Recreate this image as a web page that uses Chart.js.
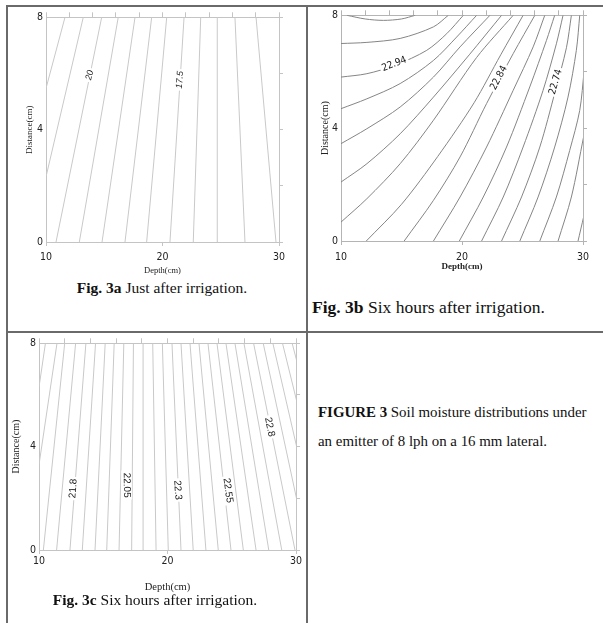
<!DOCTYPE html>
<html>
<head>
<meta charset="utf-8">
<script src="https://cdn.jsdelivr.net/npm/chart.js@4.4.0/dist/chart.umd.min.js"></script>
<style>
  body { margin: 0; background: #fff; width: 603px; height: 623px; overflow: hidden; position: relative;
         font-family: "Liberation Serif", "Times New Roman", serif; color: #111; }
  .marco { position: absolute; background: #6a6a6a; }
  canvas { position: absolute; }
  .cap { position: absolute; white-space: nowrap; line-height: 20px; }
</style>
</head>
<body>
<div class="marco" style="left:6px;top:5px;width:597px;height:2px"></div>
<div class="marco" style="left:6px;top:5px;width:2px;height:618px"></div>
<div class="marco" style="left:306px;top:5px;width:2px;height:618px"></div>
<div class="marco" style="left:6px;top:331px;width:597px;height:2px"></div>

<canvas id="fig3a"></canvas>
<canvas id="fig3b"></canvas>
<canvas id="fig3c"></canvas>

<div class="cap" style="left:7px;width:310px;text-align:center;top:278px;font-size:15.5px"><b>Fig. 3a</b> Just after irrigation.</div>
<div class="cap" style="left:312px;top:297px;font-size:17.5px"><b>Fig. 3b</b> Six hours after irrigation.</div>
<div class="cap" style="left:0px;width:310px;text-align:center;top:590px;font-size:15.5px"><b>Fig. 3c</b> Six hours after irrigation.</div>
<div class="cap" style="left:318px;top:398px;font-size:14.9px;line-height:29px"><b>FIGURE 3</b> Soil moisture distributions under<br>an emitter of 8 lph on a 16 mm lateral.</div>

<script>
// Ejes comunes
const ticksProfundidad = [10, 20, 30];
const ticksDistancia = [0, 4, 8];
const ticksSuperior = [10, 12, 14, 16, 18, 20, 22, 24, 26, 28, 30];
const ticksDerecho = [0, 2, 4, 6, 8];

// Fig. 3a - contornos [profundidad, distancia]
const fig3aContornos = [
  [[10, 5.47], [11.63, 8]],
  [[10, 2.32], [13.2, 8]],
  [[10.86, 0], [14.78, 8]],
  [[12.86, 0], [16.2, 8]],
  [[14.81, 0], [17.64, 8]],
  [[16.78, 0], [19.07, 8]],
  [[18.64, 0], [20.36, 8]],
  [[20.64, 0], [21.85, 8]],
  [[22.64, 0], [23.28, 8]],
  [[24.74, 0], [24.7, 8]],
  [[27.08, 0], [26.22, 8]],
  [[29.74, 0], [28.03, 8]]
];
const fig3aTextos = ['20', '17.5'];
const fig3aPosX = [13.75, 21.5];
const fig3aPosY = [5.94, 5.77];
const fig3aAngulos = [-78, -86];

// Fig. 3b - contornos curvos
const fig3bContornos = [
  [[10.49, 8], [12, 7.87], [13.5, 7.82], [15, 7.87], [16.13, 8]],
  [[10, 7.0], [12.14, 7.04], [14.89, 7.18], [17.64, 7.59], [18.87, 8]],
  [[10, 5.81], [12.14, 5.93], [14.48, 6.23], [17.09, 6.76], [18.74, 7.35], [20.11, 8]],
  [[10, 4.69], [12.14, 5.04], [14.89, 5.58], [17.64, 6.4], [19.56, 7.23], [21.21, 8]],
  [[10, 3.45], [12.14, 3.98], [14.89, 4.75], [17.64, 5.81], [19.84, 6.88], [22.31, 8]],
  [[10, 2.09], [12.14, 2.74], [14.89, 3.8], [17.64, 5.1], [20.6, 6.6], [23.27, 8]],
  [[10, 0.67], [12.14, 1.5], [14.89, 2.74], [17.64, 4.28], [21.2, 6.5], [24.23, 8]],
  [[12.09, 0], [15, 1.3], [18, 3.0], [21, 4.9], [23.2, 6.6], [25.05, 8]],
  [[15.22, 0], [17.64, 1.44], [19.84, 2.98], [22.03, 4.87], [24.23, 6.64], [26.02, 8]],
  [[17.64, 0], [19.84, 1.56], [22.03, 3.33], [24.23, 5.34], [25.88, 6.88], [26.84, 8]],
  [[19.78, 0], [21.76, 1.56], [23.68, 3.33], [25.6, 5.46], [26.98, 7.11], [27.66, 8]],
  [[21.62, 0], [23.41, 1.56], [25.05, 3.33], [26.7, 5.34], [27.8, 6.99], [28.35, 8]],
  [[23.27, 0], [24.92, 1.56], [26.43, 3.33], [27.7, 5.3], [28.63, 6.85], [29.04, 8]],
  [[24.78, 0], [26.29, 1.56], [27.66, 3.33], [28.76, 5.1], [29.45, 6.76], [29.73, 8]],
  [[26.43, 0], [27.8, 1.56], [28.9, 3.21], [29.73, 4.63], [30.1, 6.05]],
  [[27.94, 0], [29.04, 1.56], [30.05, 3.69]],
  [[29.59, 0], [30.05, 0.85]]
];
const fig3bTextos = ['22.94', '22.84', '22.74'];
const fig3bPosX = [14.4, 23.05, 27.75];
const fig3bPosY = [6.27, 5.78, 5.64];
const fig3bAngulos = [-21, -62, -74];

// Fig. 3c - contornos casi verticales
const fig3cContornos = [
  [[10, 6.3], [10.5, 8]],
  [[10, 3.3], [11.4, 8]],
  [[10.34, 0], [12.0, 8]],
  [[11.37, 0], [12.85, 8]],
  [[12.41, 0], [13.65, 8]],
  [[13.37, 0], [14.4, 8]],
  [[14.36, 0], [15.15, 8]],
  [[15.27, 0], [15.85, 8]],
  [[16.23, 0], [16.6, 8]],
  [[17.21, 0], [17.35, 8]],
  [[18.12, 0], [18.1, 8]],
  [[19.11, 0], [18.85, 8]],
  [[20.06, 0], [19.6, 8]],
  [[21.05, 0], [20.35, 8]],
  [[22.0, 0], [21.05, 8]],
  [[22.99, 0], [21.75, 8]],
  [[23.95, 0], [22.45, 8]],
  [[24.94, 0], [23.15, 8]],
  [[25.9, 0], [23.85, 8]],
  [[26.89, 0], [24.55, 8]],
  [[27.88, 0], [25.25, 8]],
  [[28.89, 0], [25.95, 8]],
  [[29.92, 0], [26.7, 8]],
  [[30.9, 0], [27.45, 8]],
  [[31.9, 0], [28.2, 8]],
  [[32.9, 0], [28.95, 8]],
  [[33.9, 0], [29.7, 8]]
];
const fig3cTextos = ['21.8', '22.05', '22.3', '22.55', '22.8'];
const fig3cPosX = [12.67, 16.82, 20.79, 24.7, 27.95];
const fig3cPosY = [2.38, 2.51, 2.32, 2.3, 4.76];
const fig3cAngulos = [-86, 89, 86, 82, 78];

const fuenteTicks = "'Liberation Sans Narrow', 'DejaVu Sans Condensed', sans-serif";

function crearContorno(id, cfg) {
  const canvas = document.getElementById(id);
  const c = cfg.canvas, a = cfg.area;
  canvas.width = c.r - c.l;
  canvas.height = c.b - c.t;
  canvas.style.left = c.l + 'px';
  canvas.style.top = c.t + 'px';
  canvas.style.width = (c.r - c.l) + 'px';
  canvas.style.height = (c.b - c.t) + 'px';

  const datasets = cfg.contornos.map(pts => ({
    data: pts.map(p => ({ x: p[0], y: p[1] })),
    showLine: true,
    pointRadius: 0,
    borderColor: cfg.colorLinea,
    borderWidth: 1,
    tension: cfg.tension,
    xAxisID: 'x',
    yAxisID: 'y'
  }));

  // etiquetas de los contornos, con hueco blanco en la línea
  const etiquetas = {
    id: 'etiquetas',
    afterDatasetsDraw(chart) {
      const ctx = chart.ctx;
      const sx = chart.scales.x, sy = chart.scales.y;
      cfg.textos.forEach((t, i) => {
        const px = sx.getPixelForValue(cfg.posX[i]);
        const py = sy.getPixelForValue(cfg.posY[i]);
        ctx.save();
        ctx.translate(px, py);
        ctx.rotate(cfg.angulos[i] * Math.PI / 180);
        ctx.font = cfg.fuenteEtiqueta;
        const w = ctx.measureText(t).width;
        ctx.fillStyle = '#fff';
        ctx.fillRect(-w / 2 - 2, -5, w + 4, 10);
        ctx.fillStyle = '#1a1a1a';
        ctx.textAlign = 'center';
        ctx.textBaseline = 'middle';
        ctx.fillText(t, 0, 0);
        ctx.restore();
      });
    }
  };

  const eje = cfg.colorEje;
  new Chart(canvas, {
    type: 'scatter',
    data: { datasets: datasets },
    options: {
      responsive: false,
      animation: false,
      events: [],
      layout: { padding: 0 },
      plugins: { legend: { display: false }, tooltip: { enabled: false } },
      scales: {
        x: {
          type: 'linear', position: 'bottom', min: 10, max: 30,
          afterBuildTicks: s => { s.ticks = ticksProfundidad.map(v => ({ value: v })); },
          ticks: { autoSkip: false, maxRotation: 0, padding: cfg.padX, color: '#222',
                   font: { family: fuenteTicks, size: 10.5 } },
          grid: { drawOnChartArea: false, drawTicks: true, tickLength: 4, color: eje },
          border: { color: eje },
          title: { display: true, text: 'Depth(cm)', color: '#222', padding: 0,
                   font: { family: 'Liberation Serif', size: cfg.tamTituloX, weight: cfg.pesoTituloX, lineHeight: 1.2 } },
          afterFit: s => { s.height = c.b - a.b; }
        },
        y: {
          type: 'linear', position: 'left', min: 0, max: 8,
          afterBuildTicks: s => { s.ticks = ticksDistancia.map(v => ({ value: v })); },
          ticks: { autoSkip: false, padding: 3, color: '#222',
                   font: { family: fuenteTicks, size: 10.5 } },
          grid: { drawOnChartArea: false, drawTicks: false, color: eje },
          border: { color: eje },
          title: { display: true, text: 'Distance(cm)', color: '#222', padding: 0,
                   font: { family: 'Liberation Serif', size: cfg.tamTituloY, lineHeight: 1.2 } },
          afterFit: s => { s.width = a.l - c.l; }
        },
        x2: {
          type: 'linear', position: 'top', min: 10, max: 30,
          afterBuildTicks: s => { s.ticks = ticksSuperior.map(v => ({ value: v })); },
          ticks: { display: false },
          grid: { drawOnChartArea: false, drawTicks: true, tickLength: 5, color: eje },
          border: { color: eje },
          afterFit: s => { s.height = a.t - c.t; }
        },
        y2: {
          type: 'linear', position: 'right', min: 0, max: 8,
          afterBuildTicks: s => { s.ticks = ticksDerecho.map(v => ({ value: v })); },
          ticks: { display: false },
          grid: { drawOnChartArea: false, drawTicks: true, tickLength: 4, color: eje },
          border: { color: eje },
          afterFit: s => { s.width = c.r - a.r; }
        }
      }
    },
    plugins: [etiquetas]
  });
}

crearContorno('fig3a', {
  canvas: { l: 24, t: 8, r: 300, b: 276 },
  area: { l: 46, t: 17, r: 279, b: 242 },
  contornos: fig3aContornos, textos: fig3aTextos, posX: fig3aPosX, posY: fig3aPosY, angulos: fig3aAngulos,
  colorLinea: '#c9c9c9', colorEje: '#c4c4c4', tension: 0, padX: 5,
  tamTituloX: 8.5, pesoTituloX: 'normal', tamTituloY: 9,
  fuenteEtiqueta: "italic 9px 'Liberation Sans', sans-serif"
});

crearContorno('fig3b', {
  canvas: { l: 319, t: 6, r: 600, b: 272 },
  area: { l: 341, t: 15, r: 583, b: 241 },
  contornos: fig3bContornos, textos: fig3bTextos, posX: fig3bPosX, posY: fig3bPosY, angulos: fig3bAngulos,
  colorLinea: '#858585', colorEje: '#b4b4b4', tension: 0.3, padX: 6,
  tamTituloX: 9, pesoTituloX: 'bold', tamTituloY: 10,
  fuenteEtiqueta: "10px 'Liberation Sans Narrow', 'DejaVu Sans Condensed', sans-serif"
});

crearContorno('fig3c', {
  canvas: { l: 10, t: 334, r: 306, b: 594 },
  area: { l: 39, t: 343, r: 296, b: 550 },
  contornos: fig3cContornos, textos: fig3cTextos, posX: fig3cPosX, posY: fig3cPosY, angulos: fig3cAngulos,
  colorLinea: '#c9c9c9', colorEje: '#c4c4c4', tension: 0, padX: 1,
  tamTituloX: 10.5, pesoTituloX: 'normal', tamTituloY: 10,
  fuenteEtiqueta: "10px 'Liberation Sans', sans-serif"
});
</script>
</body>
</html>
